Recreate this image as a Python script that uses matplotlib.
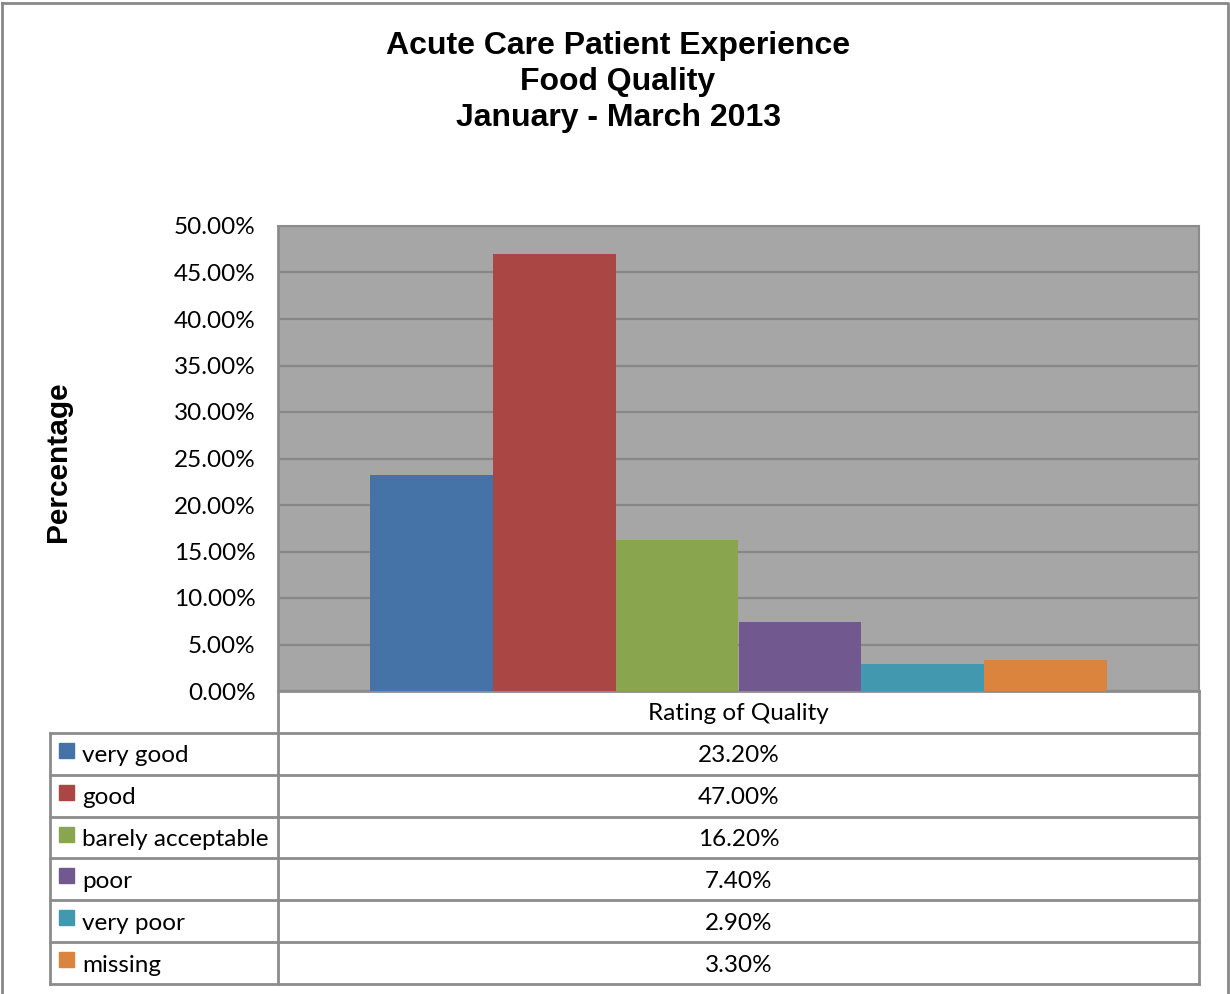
import matplotlib.pyplot as plt
from matplotlib.patches import Rectangle

categories = ['very good', 'good', 'barely acceptable', 'poor', 'very poor', 'missing']
values = [23.2, 47.0, 16.2, 7.4, 2.9, 3.3]
value_labels = ['23.20%', '47.00%', '16.20%', '7.40%', '2.90%', '3.30%']
colors = ['#4572A7', '#AA4643', '#89A54E', '#71588F', '#4198AF', '#DB843D']
y_ticks = [0, 5, 10, 15, 20, 25, 30, 35, 40, 45, 50]
x_label = 'Rating of Quality'

W, H = 1230, 994
fig = plt.figure(figsize=(W / 100, H / 100), dpi=100)
line_c = '#8C8C8C'
fs = 17.5

# plot area (pixel coords from the reference)
px0, px1, py0, py1 = 278, 1199, 226, 691
ax = fig.add_axes([px0 / W, 1 - py1 / H, (px1 - px0) / W, (py1 - py0) / H])
ax.set_facecolor('#A6A6A6')
ax.set_xlim(-0.5, 0.5)
ax.set_ylim(0, 50)

n = len(values)
bw = 0.8 / n
for i, (v, c) in enumerate(zip(values, colors)):
    ax.bar(-0.4 + bw * (i + 0.5), v, width=bw, color=c, zorder=3)

ax.set_yticks(y_ticks)
ax.set_yticklabels([f'{t:.2f}%' for t in y_ticks], fontsize=fs, family='Lato')
ax.tick_params(axis='y', length=0, pad=16)
ax.set_xticks([])
ax.yaxis.grid(True, color='#878787', lw=1.6, zorder=1)
for s in ax.spines.values():
    s.set_color(line_c)
    s.set_linewidth(2)
ax.spines['top'].set_linewidth(1.5)
ax.spines['right'].set_linewidth(1.5)

# overlay in pixel space for titles, table and frame
ov = fig.add_axes([0, 0, 1, 1], zorder=5)
ov.set_xlim(0, W)
ov.set_ylim(H, 0)
ov.axis('off')
ov.patch.set_alpha(0)

ov.text(618, 82, 'Acute Care Patient Experience\nFood Quality\nJanuary - March 2013',
        ha='center', va='center', fontsize=23, fontweight='bold',
        family='Liberation Sans', linespacing=1.27)
ov.text(58, 462, 'Percentage', rotation=90, ha='center', va='center',
        fontsize=21.5, fontweight='bold', family='Liberation Sans')

# outer chart frame
ov.plot([2, 1228, 1228], [3, 3, H + 5], color='#888888', lw=2, clip_on=False)
ov.plot([2, 2], [3, H + 5], color='#888888', lw=2, clip_on=False)

# data table
tx0 = 50
rows_y = [691, 733, 775, 817, 858, 900, 942, 984]
ov.plot([px0, px0], [py1, rows_y[-1]], color=line_c, lw=2)
ov.plot([px1, px1], [py1, rows_y[-1]], color=line_c, lw=2)
ov.plot([tx0, tx0], [rows_y[1], rows_y[-1]], color=line_c, lw=2)
for y in rows_y[1:]:
    ov.plot([tx0, px1], [y, y], color=line_c, lw=2)

ov.text((px0 + px1) / 2, (rows_y[0] + rows_y[1]) / 2 + 2, x_label,
        ha='center', va='center', fontsize=fs, family='Lato')
for i, (name, lab, c) in enumerate(zip(categories, value_labels, colors)):
    yc = (rows_y[i + 1] + rows_y[i + 2]) / 2
    ov.add_patch(Rectangle((59, yc - 11), 15, 15, color=c))
    ov.text(82, yc + 2, name, ha='left', va='center', fontsize=fs, family='Lato')
    ov.text((px0 + px1) / 2, yc + 2, lab, ha='center', va='center',
            fontsize=fs, family='Lato')

fig.savefig('out.png', dpi=100)
